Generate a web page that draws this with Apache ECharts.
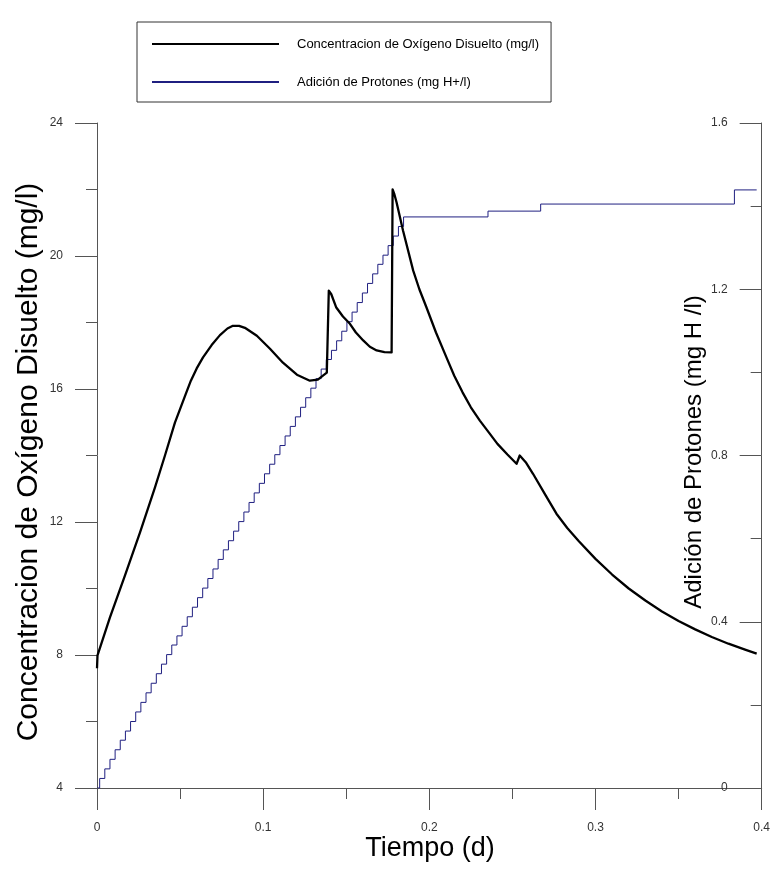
<!DOCTYPE html>
<html><head><meta charset="utf-8">
<script src="https://cdn.jsdelivr.net/npm/echarts@6/dist/echarts.min.js"></script>
<style>html,body{margin:0;padding:0;background:#fff}#c{width:773px;height:869px}</style>
</head><body><div id="c"></div><script>
const xTickLabels = ['0', '0.1', '0.2', '0.3', '0.4'];
const leftTickLabels = ['4', '8', '12', '16', '20', '24'];
const rightTickLabels = ['0', '0.4', '0.8', '1.2', '1.6'];

const oxygenName = 'Concentracion de Oxígeno Disuelto (mg/l)';
const protonName = 'Adición de Protones (mg H+/l)';

const oxygenTime = [0.0000, 0.0003, 0.0078, 0.0168, 0.0259, 0.0349, 0.0409, 0.0469, 0.0535, 0.0565,
  0.0600, 0.0638, 0.0690, 0.0740, 0.0785, 0.0818, 0.0855, 0.0890, 0.0962, 0.1041, 0.1119,
  0.1203, 0.1281, 0.1329, 0.1383, 0.1390, 0.1395, 0.1410, 0.1439, 0.1480, 0.1522,
  0.1558, 0.1602, 0.1642, 0.1683, 0.1730, 0.1773, 0.1779, 0.1790, 0.1803, 0.1842,
  0.1903, 0.1940, 0.1983, 0.2040, 0.2103, 0.2150, 0.2200, 0.2250, 0.2304, 0.2360, 0.2410, 0.2470, 0.2525, 0.2544,
  0.2580, 0.2624, 0.2700, 0.2765, 0.2830, 0.2900, 0.3000, 0.3100, 0.3200, 0.3300, 0.3400,
  0.3500, 0.3600, 0.3700, 0.3800, 0.3900, 0.3970];
const oxygenValue = [7.60, 7.99, 9.13, 10.39, 11.69, 13.04, 14.00, 14.99, 15.86, 16.25,
  16.62, 16.95, 17.32, 17.62, 17.82, 17.90, 17.90, 17.84, 17.60, 17.21, 16.79,
  16.43, 16.25, 16.28, 16.49, 16.52, 18.96, 18.85, 18.46, 18.18, 17.96,
  17.70, 17.46, 17.27, 17.16, 17.11, 17.10, 22.00, 21.85, 21.61, 20.76,
  19.56, 19.00, 18.45, 17.70, 16.95, 16.40, 15.90, 15.45, 15.05, 14.68, 14.35, 14.03, 13.75, 14.00,
  13.80, 13.45, 12.80, 12.25, 11.82, 11.42, 10.89, 10.42, 10.00, 9.64, 9.31,
  9.02, 8.77, 8.54, 8.34, 8.16, 8.04];

const protonTime = [0.0000, 0.0016, 0.0047, 0.0078, 0.0109, 0.0140, 0.0171, 0.0202, 0.0233, 0.0264, 0.0295,
  0.0326, 0.0357, 0.0388, 0.0419, 0.0450, 0.0481, 0.0512, 0.0543, 0.0574, 0.0605,
  0.0636, 0.0667, 0.0698, 0.0729, 0.0760, 0.0791, 0.0822, 0.0853, 0.0884, 0.0915,
  0.0946, 0.0977, 0.1008, 0.1039, 0.1070, 0.1101, 0.1132, 0.1163, 0.1194, 0.1225,
  0.1256, 0.1287, 0.1318, 0.1349, 0.1380, 0.1411, 0.1442, 0.1473, 0.1504, 0.1535,
  0.1566, 0.1597, 0.1628, 0.1659, 0.1690, 0.1721, 0.1752, 0.1783, 0.1814, 0.1845,
  0.2353, 0.2670, 0.3836, 0.3970];
const protonValue = [0.000, 0.023, 0.046, 0.069, 0.092, 0.115, 0.137, 0.160, 0.183, 0.206, 0.229,
  0.252, 0.275, 0.298, 0.321, 0.344, 0.366, 0.389, 0.412, 0.435, 0.458,
  0.481, 0.504, 0.527, 0.550, 0.573, 0.595, 0.618, 0.641, 0.664, 0.687,
  0.710, 0.733, 0.756, 0.779, 0.802, 0.824, 0.847, 0.870, 0.893, 0.916,
  0.939, 0.962, 0.985, 1.008, 1.031, 1.053, 1.076, 1.099, 1.122, 1.145,
  1.168, 1.191, 1.214, 1.237, 1.260, 1.282, 1.305, 1.328, 1.351, 1.374,
  1.388, 1.405, 1.439, 1.439];

const FONT = '"Liberation Sans", Arial, sans-serif';
const AXIS_COLOR = '#555';

function lookup(labels, min, step) {
  return function (v) {
    const i = Math.round((v - min) / step);
    return labels[i] !== undefined ? labels[i] : '';
  };
}

const chart = echarts.init(document.getElementById('c'), null, { renderer: 'canvas' });
chart.setOption({
  animation: false,
  backgroundColor: '#fff',
  grid: { left: 97, top: 123, width: 665, height: 665, containLabel: false },
  legend: {
    left: 137, top: 22,
    orient: 'vertical',
    padding: [14, 12, 12, 14],
    itemGap: 22,
    itemWidth: 127, itemHeight: 2,
    borderColor: '#333', borderWidth: 1,
    textStyle: { fontFamily: FONT, fontSize: 13, color: '#000', padding: [0, 0, 0, 13], lineHeight: 16 },
    data: [oxygenName, protonName]
  },
  xAxis: {
    type: 'value', min: 0, max: 0.4, interval: 0.1,
    axisLine: { show: true, onZero: false, lineStyle: { color: AXIS_COLOR, width: 1 } },
    axisTick: { show: true, inside: false, length: 22, lineStyle: { color: AXIS_COLOR } },
    minorTick: { show: true, splitNumber: 2, length: 11, lineStyle: { color: AXIS_COLOR } },
    splitLine: { show: false },
    axisLabel: { margin: 34, fontFamily: FONT, fontSize: 12, color: '#333', formatter: lookup(xTickLabels, 0, 0.1) }
  },
  yAxis: [{
    type: 'value', position: 'left', min: 4, max: 24, interval: 4,
    axisLine: { show: true, onZero: false, lineStyle: { color: AXIS_COLOR, width: 1 } },
    axisTick: { show: true, inside: false, length: 22, lineStyle: { color: AXIS_COLOR } },
    minorTick: { show: true, splitNumber: 2, length: 11, lineStyle: { color: AXIS_COLOR } },
    splitLine: { show: false },
    axisLabel: { margin: 34, fontFamily: FONT, fontSize: 12, color: '#333', formatter: lookup(leftTickLabels, 4, 4) }
  }, {
    type: 'value', position: 'right', min: 0, max: 1.6, interval: 0.4,
    axisLine: { show: true, onZero: false, lineStyle: { color: AXIS_COLOR, width: 1 } },
    axisTick: { show: true, inside: true, length: 22, lineStyle: { color: AXIS_COLOR } },
    minorTick: { show: true, splitNumber: 2, length: 11, lineStyle: { color: AXIS_COLOR } },
    splitLine: { show: false },
    axisLabel: { inside: true, margin: 34, fontFamily: FONT, fontSize: 12, color: '#333', formatter: lookup(rightTickLabels, 0, 0.4) }
  }],
  series: [{
    name: oxygenName, type: 'line', yAxisIndex: 0,
    symbol: 'none', showSymbol: false, smooth: false,
    lineStyle: { color: '#000', width: 2.3, join: 'round' },
    itemStyle: { color: '#000' },
    data: oxygenTime.map((t, i) => [t, oxygenValue[i]]),
    z: 3
  }, {
    name: protonName, type: 'line', yAxisIndex: 1,
    symbol: 'none', showSymbol: false, step: 'end',
    lineStyle: { color: '#1f1f80', width: 1 },
    itemStyle: { color: '#1f1f80' },
    data: protonTime.map((t, i) => [t, protonValue[i]]),
    z: 2
  }],
  graphic: [{
    type: 'text', x: 29, y: 462, rotation: Math.PI / 2,
    style: { text: 'Concentracion de Oxígeno Disuelto (mg/l)', font: '30px ' + FONT, fill: '#000', align: 'center', verticalAlign: 'middle' }
  }, {
    type: 'text', x: 430, y: 849,
    style: { text: 'Tiempo (d)', font: '27px ' + FONT, fill: '#000', align: 'center', verticalAlign: 'middle' }
  }, {
    type: 'text', x: 694, y: 452, rotation: Math.PI / 2,
    style: { text: 'Adición de Protones (mg H /l)', font: '24px ' + FONT, fill: '#000', align: 'center', verticalAlign: 'middle' }
  }]
});
</script></body></html>
